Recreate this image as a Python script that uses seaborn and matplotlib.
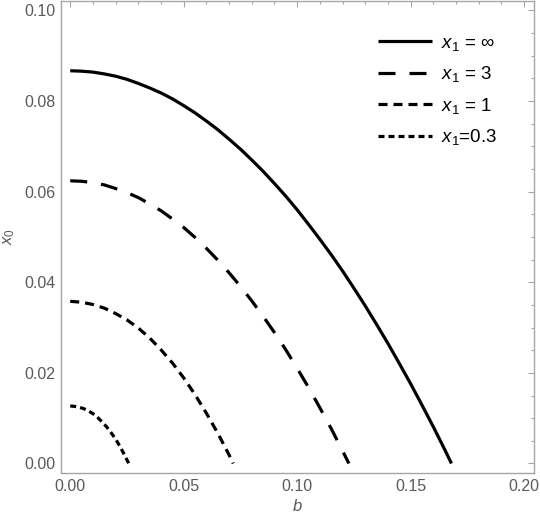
import numpy as np
import pandas as pd
import matplotlib
matplotlib.use("Agg")
import matplotlib.pyplot as plt
from matplotlib.ticker import MultipleLocator
from matplotlib.lines import Line2D
import seaborn as sns

# ---- data ----
b_inf = [0.000, 0.005, 0.010, 0.015, 0.020, 0.025, 0.030, 0.035, 0.040, 0.045,
         0.050, 0.055, 0.060, 0.065, 0.070, 0.075, 0.080, 0.085, 0.090, 0.095,
         0.100, 0.105, 0.110, 0.115, 0.120, 0.125, 0.130, 0.135, 0.140, 0.145,
         0.150, 0.155, 0.160, 0.165, 0.168]
x0_inf = [0.0867, 0.0866, 0.0864, 0.0860, 0.0855, 0.0848, 0.0839, 0.0829, 0.0818, 0.0805,
          0.0790, 0.0774, 0.0756, 0.0737, 0.0716, 0.0694, 0.0670, 0.0645, 0.0618, 0.0590,
          0.0560, 0.0528, 0.0495, 0.0461, 0.0425, 0.0387, 0.0348, 0.0307, 0.0265, 0.0221,
          0.0176, 0.0129, 0.0081, 0.0031, 0.0]

b_3 = [0.000, 0.005, 0.010, 0.015, 0.020, 0.025, 0.030, 0.035, 0.040, 0.045,
       0.050, 0.055, 0.060, 0.065, 0.070, 0.075, 0.080, 0.085, 0.090, 0.095,
       0.100, 0.105, 0.110, 0.115, 0.120, 0.1228]
x0_3 = [0.0624, 0.0623, 0.0620, 0.0615, 0.0607, 0.0598, 0.0587, 0.0573, 0.0558, 0.0540,
        0.0521, 0.0499, 0.0475, 0.0449, 0.0421, 0.0391, 0.0359, 0.0325, 0.0289, 0.0251,
        0.0210, 0.0168, 0.0123, 0.0077, 0.0028, 0.0]

b_1 = [0, 0.005, 0.01, 0.015, 0.02, 0.025, 0.03, 0.035, 0.04, 0.045, 0.05, 0.055, 0.06, 0.065, 0.07, 0.0718]
x0_1 = [0.0358, 0.0356, 0.0351, 0.0343, 0.0331, 0.0317, 0.0299, 0.0277, 0.0251, 0.0222, 0.0189, 0.0152, 0.0111, 0.0067, 0.0019, 0.0]

b_03 = [0, 0.002, 0.004, 0.006, 0.008, 0.010, 0.012, 0.014, 0.016, 0.018, 0.020, 0.022, 0.024, 0.0258]
x0_03 = [0.0127, 0.0126, 0.0124, 0.0121, 0.0116, 0.0110, 0.0102, 0.0092, 0.0081, 0.0068, 0.0054, 0.0037, 0.0018, 0.0]

labels = [r"$x_1$ = ∞", r"$x_1$ = 3", r"$x_1$ = 1", r"$x_1$=0.3"]
x_ticks = [0.00, 0.05, 0.10, 0.15, 0.20]
y_ticks = [0.00, 0.02, 0.04, 0.06, 0.08, 0.10]

sns.set_theme(style="white")
plt.rcParams["font.family"] = ["Liberation Sans", "DejaVu Sans"]
plt.rcParams["mathtext.fontset"] = "custom"
plt.rcParams["mathtext.rm"] = "Liberation Sans"
plt.rcParams["mathtext.it"] = "Liberation Sans:italic"
plt.rcParams["lines.scale_dashes"] = False

px = 0.72  # points per pixel at dpi 100
styles = [
    (0, ()),
    (0, (17 * px, 14 * px)),
    (0, (9 * px, 6 * px)),
    (0, (6 * px, 4 * px)),
]
lw = 2.3

fig = plt.figure(figsize=(5.40, 5.21), dpi=100)
ax = fig.add_axes([60.7 / 540, 48 / 521, (534.3 - 60.7) / 540, 473 / 521 - 0.001])

series = [(b_inf, x0_inf), (b_3, x0_3), (b_1, x0_1), (b_03, x0_03)]
handles = []
for (bb, yy), ls, lab in zip(series, styles, labels):
    df = pd.DataFrame({"b": bb, "x0": yy})
    sns.lineplot(data=df, x="b", y="x0", ax=ax, color="black", lw=lw,
                 linestyle=ls, sort=False, estimator=None, legend=False)
    handles.append(Line2D([], [], color="black", lw=lw, linestyle=ls, label=lab))

ax.set_xlim(-0.0042, 0.2045)
ax.set_ylim(-0.0021, 0.1022)
ax.set_xticks(x_ticks)
ax.set_yticks(y_ticks)
ax.set_xticklabels([f"{v:.2f}" for v in x_ticks])
ax.set_yticklabels([f"{v:.2f}" for v in y_ticks])
ax.xaxis.set_minor_locator(MultipleLocator(0.01))
ax.yaxis.set_minor_locator(MultipleLocator(0.005))

frame_col = "#a6a6a6"
lab_col = "#5a5a5a"
for s in ax.spines.values():
    s.set_color(frame_col)
    s.set_linewidth(1.0)
ax.tick_params(which="both", direction="in", top=True, right=True,
               color=frame_col, width=0.8, labelsize=11.5, labelcolor=lab_col)
ax.tick_params(which="major", length=4.5, pad=4)
ax.tick_params(which="minor", length=2.5)

ax.set_xlabel(r"$b$", color=lab_col, fontsize=12, labelpad=3)
ax.set_ylabel(r"$x_0$", color=lab_col, fontsize=12, labelpad=5)

fs = 13.5
leg = ax.legend(handles=handles, loc="upper left", frameon=False,
                bbox_to_anchor=((378 - 60.7) / 473.6, 1 - 34 / 473), fontsize=fs,
                handlelength=2.9, handletextpad=0.45, labelspacing=0.62,
                borderaxespad=0.0, borderpad=0.0)
for t in leg.get_texts():
    t.set_color("black")

fig.savefig("out.png", dpi=100)
